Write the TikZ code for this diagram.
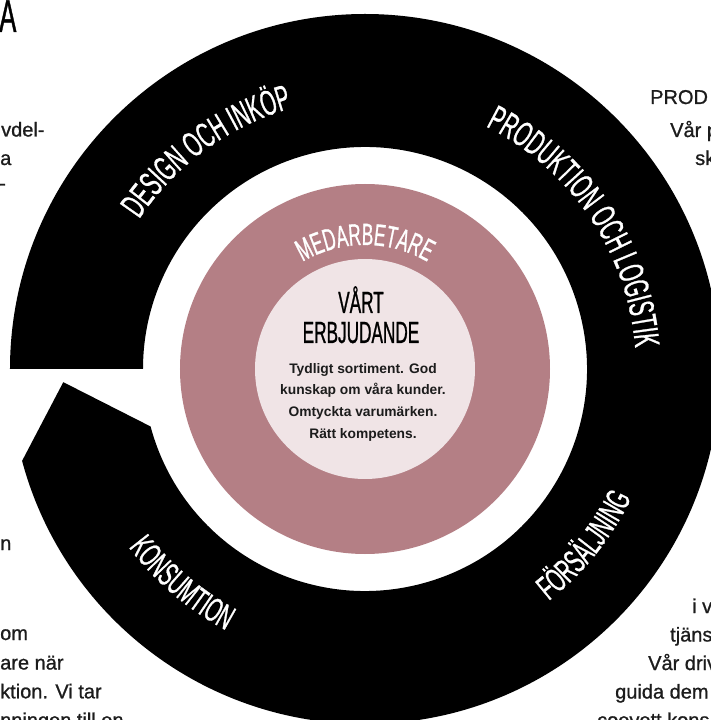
\documentclass[tikz,border=0pt]{standalone}
\usepackage{fontspec}
\setmainfont{Liberation Sans}
\newfontfamily\condfont[FakeStretch=0.56,FakeBold=0.8]{Liberation Sans}
\newfontfamily\sidefont[FakeBold=0.9]{Liberation Sans}
\usetikzlibrary{decorations.text}
\definecolor{ringpink}{HTML}{B47F85}
\definecolor{lightpink}{HTML}{F0E4E6}
\definecolor{txt}{HTML}{1C1C1C}
\newcommand\ringtxt{\condfont\fontsize{34}{34}\selectfont}
\newcommand\ringtxtbig{\condfont\fontsize{35.5}{35.5}\selectfont}
\newcommand\medtxt{\condfont\fontsize{30.7}{30.7}\selectfont}
\tikzset{
  sidetxt/.style={font=\sidefont\fontsize{20}{20}\selectfont, text=txt, inner sep=0pt, anchor=base west},
  bodytxt/.style={font=\bfseries\fontsize{13.8}{13.8}\selectfont, text=txt, inner sep=0pt, anchor=base},
  headtxt/.style={font=\condfont\fontsize{30.7}{30.7}\selectfont, text=black, inner sep=0pt, anchor=base},
  ringlabel/.style={decorate, decoration={text along path, text align=center, text color=white, text={|\ringtxt|#1}}},
  ringlabelbig/.style={decorate, decoration={text along path, text align=center, text color=white, text={|\ringtxtbig|#1}}},
  medlabel/.style={decorate, decoration={text along path, text align=center, text color=white, text={|\medtxt|#1}}}
}
\begin{document}
\begin{tikzpicture}[x=1pt,y=1pt]
\useasboundingbox (-365,-351) rectangle (346,369);
\fill[white] (-365,-351) rectangle (346,369);
% black ring (circular arrow)
\fill[black] (180:222) -- (180:355) arc[start angle=180, end angle=-165, radius=355]
  -- (182.5:302) -- (-165:222) arc[start angle=-165, end angle=180, radius=222] -- cycle;
% pink and light discs
\fill[ringpink] (0,0) circle[radius=185];
\fill[lightpink] (0,0) circle[radius=110];
% ring labels
\path[ringlabelbig={DESIGN OCH INKÖP}] (176:271) arc[start angle=176, end angle=76, radius=271];
\path[ringlabelbig={PRODUKTION OCH LOGISTIK}] (84:271) arc[start angle=84, end angle=-16, radius=271];
\path[ringlabel={FÖRSÄLJNING}] (-88.7:296) arc[start angle=-88.7, end angle=11.3, radius=296];
\path[ringlabel={KONSUMTION}] (179.5:296) arc[start angle=179.5, end angle=279.5, radius=296];
\path[medlabel={MEDARBETARE}] (150:124) arc[start angle=150, end angle=30, radius=124];
% centre texts
\node[headtxt] (vart) at (-4,56) {VÅRT};
\node[headtxt] (erbj) at (-4,26) {ERBJUDANDE};
\node[bodytxt] (b1) at (-2,-4.5) {Tydligt sortiment. God};
\node[bodytxt] (b2) at (-2,-26) {kunskap om våra kunder.};
\node[bodytxt] (b3) at (-2,-47.5) {Omtyckta varumärken.};
\node[bodytxt] (b4) at (-2,-69) {Rätt kompetens.};
% cropped heading letter
\node[font=\condfont\fontsize{46}{46}\selectfont, inner sep=0pt, anchor=base west] (bigA) at (-366,337) {A};
% cropped side texts, left
\node[sidetxt] (l1) at (-364,232.5) {vdel-};
\node[sidetxt] (l2) at (-365,204) {a};
\node[sidetxt] (l3) at (-366,179) {-};
\node[sidetxt] (l4) at (-365,-181) {n};
\node[sidetxt] (l5) at (-365,-271) {om};
\node[sidetxt] (l6) at (-365,-300.5) {are när};
\node[sidetxt] (l7) at (-365,-329.3) {ktion. Vi tar};
\node[sidetxt] (l8) at (-365,-358) {nningen till en};
% cropped side texts, right
\node[sidetxt] (r0) at (285,265) {PROD};
\node[sidetxt] (r1) at (305,232) {Vår p};
\node[sidetxt] (r2) at (330,204) {sk};
\node[sidetxt] (r3) at (327,-244) {i v};
\node[sidetxt] (r4) at (305,-272.5) {tjäns};
\node[sidetxt] (r5) at (283,-301) {Vår driv};
\node[sidetxt] (r6) at (250,-329.5) {guida dem};
\node[sidetxt] (r7) at (232,-358) {coevett kons};
\end{tikzpicture}
\end{document}
